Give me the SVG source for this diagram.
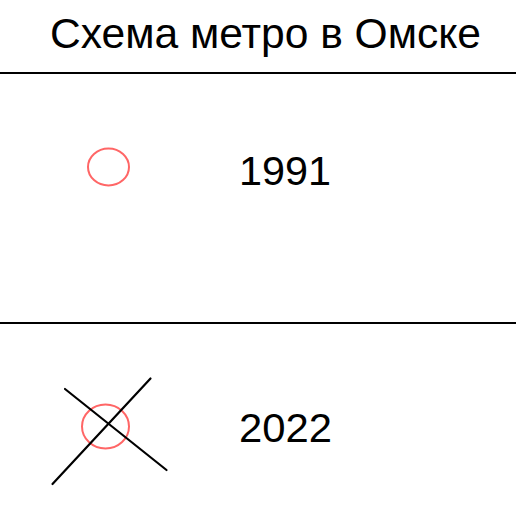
<svg xmlns="http://www.w3.org/2000/svg" width="516" height="523" viewBox="0 0 516 523">
<style>
.t{font-family:"Liberation Sans",Arial,sans-serif;fill:#000}
.rule{stroke:#000;stroke-width:2}
.st{fill:none;stroke:#f66;stroke-width:2}
.x{stroke:#000;stroke-width:2.2;stroke-linecap:round}
</style>
<rect width="516" height="523" fill="#fff"/>
<g id="title"><text class="t" x="50" y="48" font-size="43" textLength="431" lengthAdjust="spacingAndGlyphs">Схема метро в Омске</text></g>
<g id="dividers">
<line class="rule" x1="0" y1="73" x2="516" y2="73"/>
<line class="rule" x1="0" y1="323" x2="516" y2="323"/>
</g>
<g id="row1991">
<ellipse class="st" cx="108.5" cy="167" rx="20.5" ry="18.5"/>
<text class="t" x="239" y="185" font-size="41" textLength="92" lengthAdjust="spacingAndGlyphs">1991</text>
</g>
<g id="row2022">
<ellipse class="st" cx="105.5" cy="426.5" rx="23.5" ry="22"/>
<line class="x" x1="65" y1="389" x2="166.5" y2="470"/>
<line class="x" x1="150.5" y1="378.5" x2="52.5" y2="484"/>
<text class="t" x="239" y="441.5" font-size="41" textLength="93" lengthAdjust="spacingAndGlyphs">2022</text>
</g>
</svg>
